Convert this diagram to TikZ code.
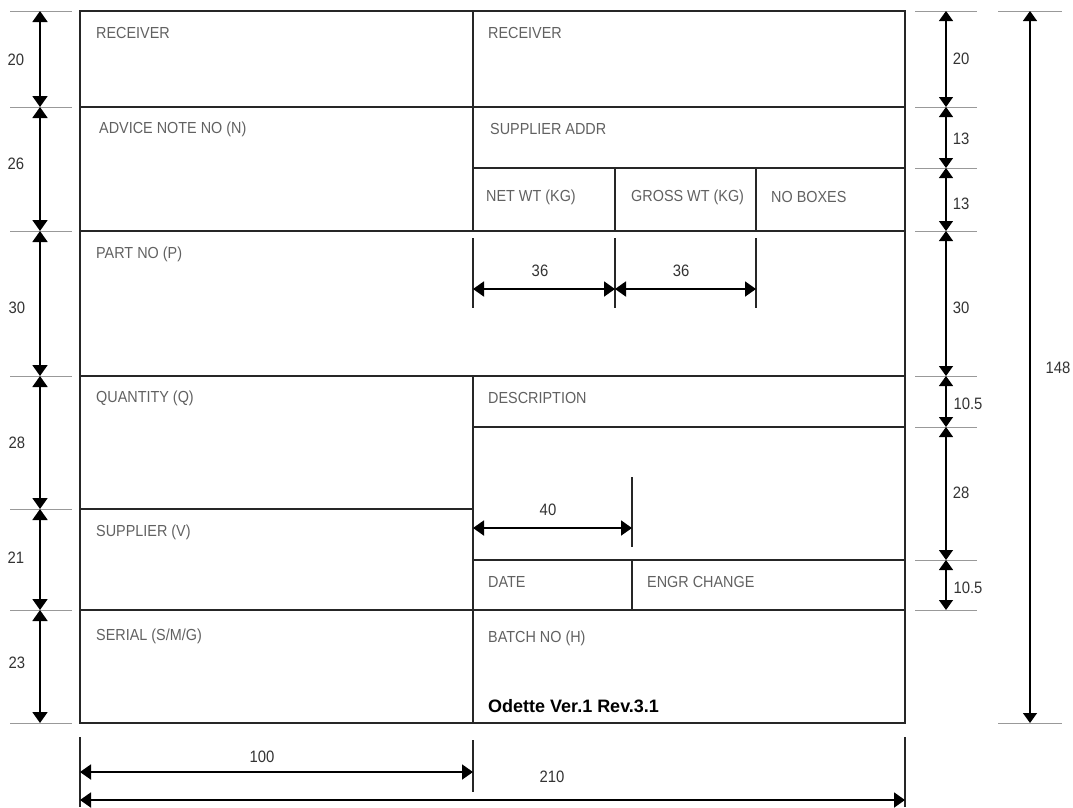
\documentclass[tikz,border=0pt]{standalone}
\usepackage{fontspec}
\setmainfont{Liberation Sans}
\newfontfamily\narrowfont[FakeStretch=0.9]{Liberation Sans}
\usetikzlibrary{arrows.meta}

\tikzset{
  frame/.style={line width=2.6pt, black!85},
  extline/.style={line width=1.5pt, black!85},
  tick/.style={line width=0.8pt, black!40},
  dimline/.style={line width=1.9pt, {Triangle[length=11pt,width=15pt]}-{Triangle[length=11pt,width=15pt]}},
  dimthin/.style={line width=1.3pt, {Triangle[length=10pt,width=14pt]}-{Triangle[length=10pt,width=14pt]}},
  lbl/.style={anchor=west, inner sep=0pt, text=black!62, font=\narrowfont\fontsize{16}{18}\selectfont},
  num/.style={inner sep=0pt, text=black!80, font=\narrowfont\fontsize{16.5}{18}\selectfont},
}

\begin{document}
\begin{tikzpicture}[x=1pt,y=-1pt]
    \useasboundingbox (0,0) rectangle (1073,807);

    % label frame and rows %
    \draw[frame] (80,11) rectangle (905,723);
    \draw[frame] (473,11) -- (473,231);
    \draw[frame] (473,376) -- (473,723);
    \foreach \y in {107,231,376,610} \draw[frame] (80,\y) -- (905,\y);
    \draw[frame] (80,509) -- (473,509);
    \foreach \y in {168,427,560} \draw[frame] (473,\y) -- (905,\y);
    \draw[frame] (615,168) -- (615,231);
    \draw[frame] (756,168) -- (756,231);
    \draw[frame] (632,560) -- (632,610);

    % field names %
    \node[lbl] (rcvl) at (96,33) {RECEIVER};
    \node[lbl] (rcvr) at (488,33) {RECEIVER};
    \node[lbl] (advice) at (99,129) {ADVICE NOTE NO (N)};
    \node[lbl] (suppaddr) at (490,129) {SUPPLIER ADDR};
    \node[lbl] (netwt) at (486,197) {NET WT (KG)};
    \node[lbl] (grosswt) at (631,197) {GROSS WT (KG)};
    \node[lbl] (boxes) at (771,197) {NO BOXES};
    \node[lbl] (partno) at (96,254) {PART NO (P)};
    \node[lbl] (qty) at (96,398) {QUANTITY (Q)};
    \node[lbl] (descr) at (488,398) {DESCRIPTION};
    \node[lbl] (supp) at (96,532) {SUPPLIER (V)};
    \node[lbl] (date) at (488,582) {DATE};
    \node[lbl] (engr) at (647,582) {ENGR CHANGE};
    \node[lbl] (serial) at (96,636) {SERIAL (S/M/G)};
    \node[lbl] (batch) at (488,638) {BATCH NO (H)};
    \node[anchor=west, inner sep=0pt, font=\fontsize{18}{20}\selectfont\bfseries] (ver) at (488,706) {Odette Ver.1 Rev.3.1};

    % left heights %
    \foreach \y in {11,107,231,376,509,610,723} \draw[tick] (10,\y) -- (72,\y);
    \foreach \a/\b in {11/107,107/231,231/376,376/509,509/610,610/723}
      \draw[dimline] (40,\a) -- (40,\b);
    \node[num] (hl1) at (16,60) {20};
    \node[num] (hl2) at (16,164) {26};
    \node[num] (hl3) at (17,308) {30};
    \node[num] (hl4) at (17,443) {28};
    \node[num] (hl5) at (16,558) {21};
    \node[num] (hl6) at (17,663) {23};

    % right heights %
    \foreach \y in {11,107,168,231,376,427,560,610} \draw[tick] (915,\y) -- (977,\y);
    \foreach \a/\b in {11/107,107/168,168/231,231/376,376/427,427/560,560/610}
      \draw[dimthin] (946,\a) -- (946,\b);
    \node[num] (hr1) at (961,59) {20};
    \node[num] (hr2) at (961,139) {13};
    \node[num] (hr3) at (961,204) {13};
    \node[num] (hr4) at (961,308) {30};
    \node[num] (hr5) at (968,404) {10.5};
    \node[num] (hr6) at (961,493) {28};
    \node[num] (hr7) at (968,588) {10.5};

    % total height %
    \foreach \y in {11,723} \draw[tick] (998,\y) -- (1062,\y);
    \draw[dimthin] (1030,11) -- (1030,723);
    \node[num] (htot) at (1058,368) {148};

    % box widths %
    \foreach \x in {473,615,756} \draw[extline] (\x,238) -- (\x,308);
    \draw[dimline] (473,289) -- (615,289);
    \draw[dimline] (615,289) -- (756,289);
    \node[num] (w1) at (540,271) {36};
    \node[num] (w2) at (681,271) {36};
    \draw[extline] (632,477) -- (632,547);
    \draw[dimline] (473,528) -- (632,528);
    \node[num] (w3) at (548,510) {40};

    % overall widths %
    \draw[extline] (80,737) -- (80,807);
    \draw[extline] (473,740) -- (473,792);
    \draw[extline] (905,737) -- (905,807);
    \draw[dimline] (80,772) -- (473,772);
    \draw[dimline] (80,800) -- (905,800);
    \node[num] (w100) at (262,757) {100};
    \node[num] (w210) at (552,777) {210};
\end{tikzpicture}
\end{document}
